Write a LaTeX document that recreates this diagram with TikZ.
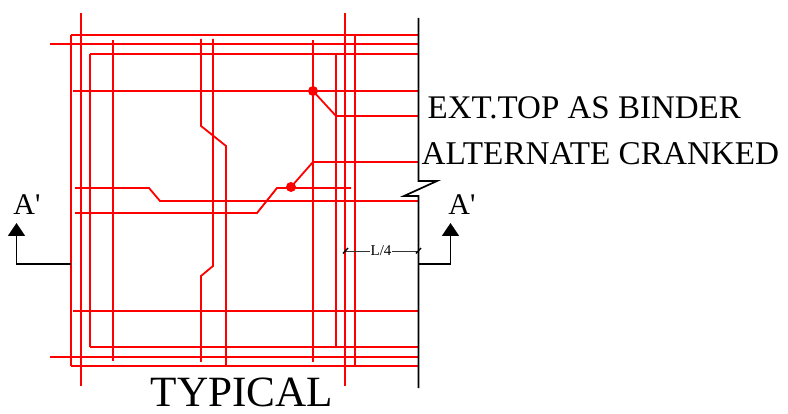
\documentclass[tikz,border=0pt]{standalone}
\usepackage{fontspec}
\setmainfont{Liberation Serif}
\usetikzlibrary{arrows.meta}

\begin{document}
\begin{tikzpicture}[x=1pt,y=-1pt,line join=miter,
	bar/.style={red,line width=1.8pt},
	wall/.style={black,line width=1.7pt},
	lbl/.style={inner sep=0pt,text=black},
	sect/.style={wall,-{Triangle[length=13pt,width=17pt]}}]
\useasboundingbox (0,0) rectangle (788,414);

% horizontal bars up to the wall
\foreach \y/\xa in {35/71,44/50,54/90,91/73,311/73,347/90,357/50,366/71}
	\draw[bar] (\xa,\y)--(418,\y);
% vertical bars
\foreach \x/\ya/\yb in {71/35/366,81/13/386,90/54/347,113/40/361,313/40/362,336/54/347,345/13/386,355/35/366}
	\draw[bar] (\x,\ya)--(\x,\yb);
% cranked bars
\draw[bar] (201,39)--(201,126)--(226,146)--(226,366);
\draw[bar] (213,39)--(213,266)--(201,276)--(201,362);
\draw[bar] (75,188)--(149,188)--(160,201)--(260,201);
\draw[bar] (248,201)--(418,201);
\draw[bar] (75,213)--(257,213)--(277,188)--(351,188);
\draw[bar] (291,187)--(313,162)--(418,162);
\draw[bar] (313,91)--(336,116)--(418,116);
\fill[red] (313,91) circle (5pt);
\fill[red] (291,187) circle (5pt);

% wall with break
\draw[wall] (418.5,18)--(418.5,181)--(437,181)--(404,196)--(418.5,196)--(418.5,388);

% section marks
\draw[sect] (71,264)--(16.5,264)--(16.5,223);
\draw[sect] (418.5,264)--(450.5,264)--(450.5,223);
\node[lbl,font=\fontsize{30}{30}\selectfont] (secL) at (27,205) {A\textquotesingle};
\node[lbl,font=\fontsize{30}{30}\selectfont] (secR) at (462,205) {A\textquotesingle};

% dimension
\draw[black!80,line width=0.8pt] (345,251)--(418,251);
\draw[black,line width=1.4pt] (343,253.5)--(348,248);
\draw[black,line width=1.4pt] (416,253.5)--(421,248);
\node[lbl,fill=white,inner xsep=1pt,font=\fontsize{15}{15}\selectfont] (dimL) at (381,250.5) {L/4};

\node[lbl,anchor=west,font=\fontsize{33}{33}\selectfont] (topNote) at (427.5,107.5) {EXT.TOP AS BINDER};
\node[lbl,anchor=west,font=\fontsize{33.2}{33}\selectfont] (crankNote) at (421.5,154) {ALTERNATE CRANKED};
\node[lbl,font=\fontsize{43.2}{44}\selectfont] (title) at (242,392) {TYPICAL};
\end{tikzpicture}
\end{document}
